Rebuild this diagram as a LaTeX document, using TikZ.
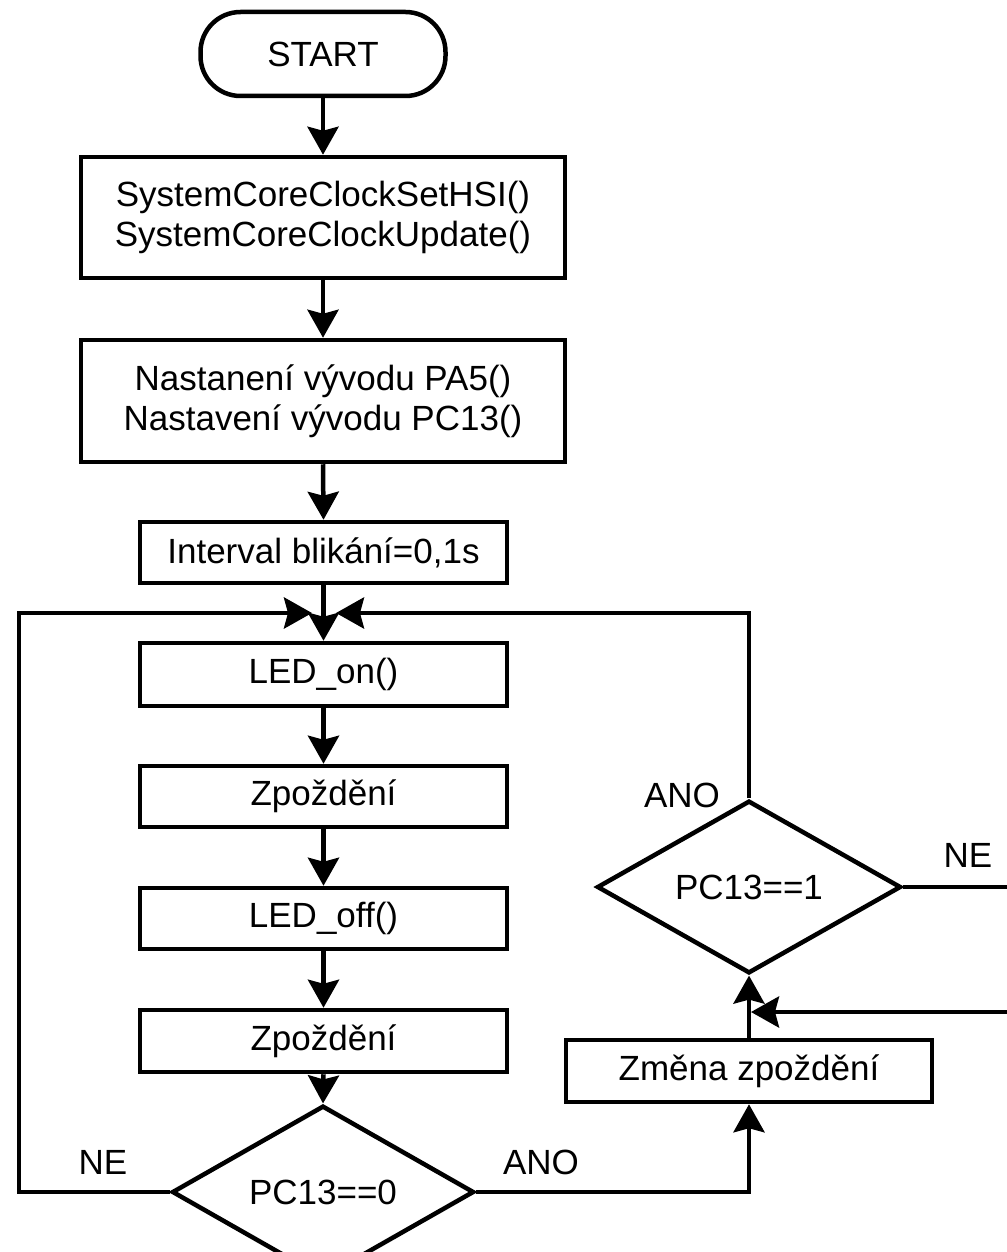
\documentclass[tikz,border=0pt]{standalone}
\usepackage{fontspec}
\setmainfont{Liberation Sans}
\usetikzlibrary{arrows.meta,shapes.geometric}
\begin{document}
\begin{tikzpicture}[x=1pt,y=-1pt,
  line width=4.5pt,
  every node/.style={font=\fontsize{35pt}{40pt}\selectfont},
  box/.style={draw, rectangle, inner sep=0pt, align=center},
  term/.style={draw, rectangle, rounded corners=40pt, inner sep=0pt, minimum width=245pt, minimum height=84pt},
  dec/.style={draw, diamond, inner sep=0pt, minimum width=302pt, minimum height=122pt},
  arr/.style={-{Stealth[length=28pt,width=31pt,inset=4pt]}},
  lbl/.style={inner sep=0pt}
]
\useasboundingbox (0,0) rectangle (1006,1252);

\node[term] (start) at (323,54) {START};
\node[box, minimum width=484pt, minimum height=121pt] (b1) at (323,217.5) {SystemCoreClockSetHSI()\\SystemCoreClockUpdate()};
\node[box, minimum width=484pt, minimum height=122pt] (b2) at (323,401) {Nastanení vývodu PA5()\\Nastavení vývodu PC13()};
\node[box, minimum width=367pt, minimum height=61pt] (b3) at (323.5,552.5) {Interval blikání=0,1s};
\node[box, minimum width=367pt, minimum height=63pt] (ledon) at (323.5,674.5) {LED\_on()};
\node[box, minimum width=367pt, minimum height=61pt] (zp1) at (323.5,796.5) {Zpoždění};
\node[box, minimum width=367pt, minimum height=61pt] (ledoff) at (323.5,918.5) {LED\_off()};
\node[box, minimum width=367pt, minimum height=62pt] (zp2) at (323.5,1041) {Zpoždění};
\node[dec, minimum width=302pt, minimum height=120pt] (d0) at (323,1192) {PC13==0};
\node[dec, minimum width=304pt, minimum height=124pt] (d1) at (749,887) {PC13==1};
\node[box, minimum width=366pt, minimum height=62pt] (zm) at (749,1071) {Změna zpoždění};

\node[lbl] (ano1) at (682,795) {ANO};
\node[lbl] (ne1) at (968,855) {NE};
\node[lbl] (ne0) at (103,1162) {NE};
\node[lbl] (ano0) at (541,1162) {ANO};

\coordinate (jl) at (312,613);
\coordinate (jr) at (336,613);
\coordinate (cl) at (19,613);
\coordinate (e1) at (1010,887);
\coordinate (e2) at (1010,1012);
\coordinate (m) at (751,1012);

\draw[arr] (start.south) -- (b1.north);
\draw[arr] (b1.south) -- (b2.north);
\draw[arr] (b2.south) -- (b3.north);
\draw[arr] (b3.south) -- (ledon.north);
\draw[arr] (ledon.south) -- (zp1.north);
\draw[arr] (zp1.south) -- (ledoff.north);
\draw[arr] (ledoff.south) -- (zp2.north);
\draw[arr] (zp2.south) -- (d0.north);
\draw[arr] (d0.west) -| (cl) -- (jl);
\draw[arr] (d0.east) -| (zm.south);
\draw[arr] (zm.north) -- (d1.south);
\draw[arr] (d1.north) |- (jr);
\draw (d1.east) -- (e1);
\draw[arr] (e2) -- (m);
\end{tikzpicture}
\end{document}
